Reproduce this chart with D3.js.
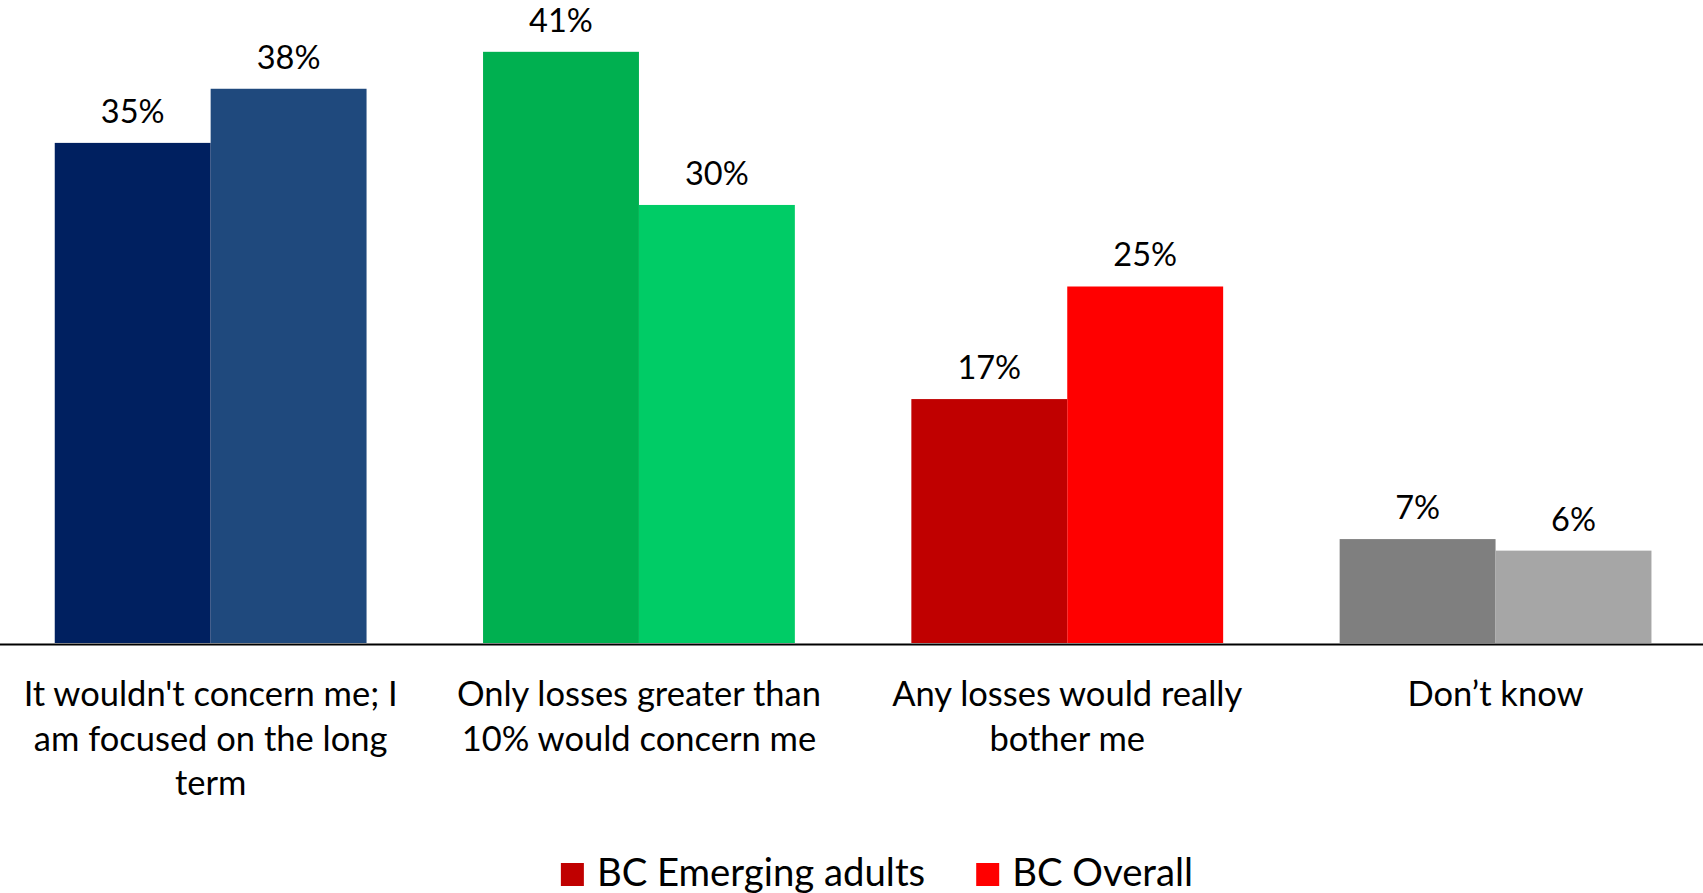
<!DOCTYPE html>
<html>
<head>
<meta charset="utf-8">
<script src="https://cdn.jsdelivr.net/npm/d3@7"></script>
<style>
  html, body { margin: 0; padding: 0; background: #fff; overflow: hidden; }
  svg { display: block; font-family: Lato, "Open Sans", sans-serif; }
</style>
</head>
<body>
<svg id="chart" width="1703" height="893"></svg>
<script>
// ---- data ----
const categories = [
  "It wouldn't concern me; I\nam focused on the long\nterm",
  "Only losses greater than\n10% would concern me",
  "Any losses would really\nbother me",
  "Don\u2019t know"
];
const seriesNames = ["BC Emerging adults", "BC Overall"];
// values (labels show them rounded)
const emergingAdults = [34.65, 40.96, 16.9, 7.2];
const overall = [38.4, 30.35, 24.7, 6.4];

// ---- styles ----
const barColors = [
  ["#002060", "#1F497D"],
  ["#00B050", "#00CC66"],
  ["#C00000", "#FF0000"],
  ["#7F7F7F", "#A6A6A6"]
];
const legendColors = ["#C00000", "#FF0000"];

const baseY = 643;
const svg = d3.select("#chart");
const fmt = v => d3.format(".0f")(v) + "%";

const x = d3.scaleBand()
  .domain(categories)
  .range([-3.5, 1709.7])
  .paddingInner(0.272)
  .paddingOuter(0.136);

const xs = d3.scaleBand()
  .domain(seriesNames)
  .range([0, x.bandwidth()]);

const y = d3.scaleLinear().domain([0, 44.55]).range([baseY, 0]);

const rows = categories.map((c, i) => ({
  cat: c, idx: i,
  vals: [emergingAdults[i], overall[i]]
}));

const groups = svg.append("g").selectAll("g")
  .data(rows).join("g")
  .attr("transform", d => `translate(${x(d.cat)},0)`);

groups.selectAll("rect")
  .data(d => d.vals.map((v, j) => ({ v, j, idx: d.idx })))
  .join("rect")
  .attr("x", d => xs(seriesNames[d.j]))
  .attr("width", xs.bandwidth())
  .attr("y", d => y(d.v))
  .attr("height", d => y(0) - y(d.v))
  .attr("fill", d => barColors[d.idx][d.j]);

groups.selectAll("text.val")
  .data(d => d.vals.map((v, j) => ({ v, j })))
  .join("text")
  .attr("class", "val")
  .attr("x", d => xs(seriesNames[d.j]) + xs.bandwidth() / 2)
  .attr("y", d => y(d.v) - 20)
  .attr("text-anchor", "middle")
  .attr("font-size", 32.5)
  .attr("fill", "#000")
  .text(d => fmt(d.v));

// axis
const axis = svg.append("g")
  .attr("transform", `translate(0,${baseY + 1})`)
  .call(d3.axisBottom(x).tickSize(0).tickSizeOuter(0).tickPadding(0));
axis.select(".domain").attr("stroke", "#000").attr("stroke-width", 2);
axis.selectAll(".tick text").remove();
axis.selectAll(".tick").each(function(d) {
  const t = d3.select(this).append("text")
    .attr("text-anchor", "middle")
    .attr("font-size", 34.5)
    .attr("fill", "#000")
    .attr("font-family", "Lato, 'Open Sans', sans-serif");
  d.split("\n").forEach((line, k) => {
    t.append("tspan").attr("x", 0).attr("y", 62 + k * 44.5).text(line);
  });
});

// legend
const legend = svg.append("g");
let cx = 0;
seriesNames.forEach((name, i) => {
  const g = legend.append("g").attr("transform", `translate(${cx},0)`);
  g.append("rect").attr("x", 0).attr("y", 863).attr("width", 23).attr("height", 23)
    .attr("fill", legendColors[i]);
  const t = g.append("text").attr("x", 36).attr("y", 886)
    .attr("font-size", 38.3).attr("fill", "#000").text(name);
  cx += 36 + t.node().getComputedTextLength() + 51;
});
const legW = cx - 51;
legend.attr("transform", `translate(${877 - legW / 2},0)`);
</script>
</body>
</html>
